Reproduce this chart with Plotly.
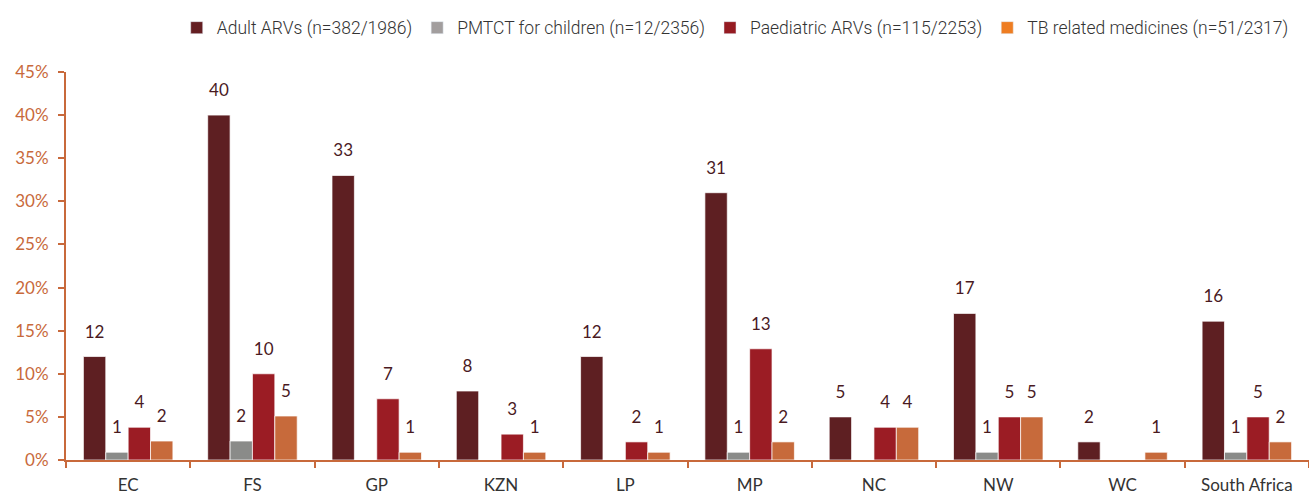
import plotly.graph_objects as go

categories = ["EC", "FS", "GP", "KZN", "LP", "MP", "NC", "NW", "WC", "South Africa"]

series_names = [
    "Adult ARVs (n=382/1986)",
    "PMTCT for children (n=12/2356)",
    "Paediatric ARVs (n=115/2253)",
    "TB related medicines (n=51/2317)",
]

adult_arvs = [12.0, 40.0, 33.0, 8.0, 12.0, 31.0, 5.0, 17.0, 2.1, 16.1]
pmtct_children = [0.9, 2.2, 0, 0, 0, 0.9, 0, 0.9, 0, 0.9]
paediatric_arvs = [3.8, 10.0, 7.1, 3.0, 2.1, 12.9, 3.8, 5.0, 0, 5.0]
tb_medicines = [2.2, 5.1, 0.9, 0.9, 0.9, 2.1, 3.8, 5.0, 0.9, 2.1]

adult_labels = ["12", "40", "33", "8", "12", "31", "5", "17", "2", "16"]
pmtct_labels = ["1", "2", "", "", "", "1", "", "1", "", "1"]
paed_labels = ["4", "10", "7", "3", "2", "13", "4", "5", "", "5"]
tb_labels = ["2", "5", "1", "1", "1", "2", "4", "5", "1", "2"]

bar_colors = ["#5E1F22", "#8A8B89", "#9B1C24", "#C76A3B"]
legend_colors = ["#641E22", "#A29E9E", "#951B22", "#EE7D22"]

values = [adult_arvs, pmtct_children, paediatric_arvs, tb_medicines]
labels = [adult_labels, pmtct_labels, paed_labels, tb_labels]

axis_color = "#C8693B"
label_color = "#4A1A1F"

fig = go.Figure()
for i, (name, vals, col) in enumerate(zip(series_names, values, bar_colors)):
    fig.add_trace(go.Bar(
        x=categories, y=vals, name=name, offsetgroup=str(i),
        marker=dict(color=col, line=dict(color="rgba(255,255,255,0.7)", width=1)),
        showlegend=False, hoverinfo="skip",
    ))

# value labels, aligned with the bar groups
for i, (vals, labs) in enumerate(zip(values, labels)):
    fig.add_trace(go.Scatter(
        x=categories, y=vals, text=labs, mode="markers+text",
        offsetgroup=str(i), textposition="top center", cliponaxis=False,
        marker=dict(size=22, opacity=0),
        textfont=dict(family="Lato", size=17, color=label_color),
        showlegend=False, hoverinfo="skip",
    ))

# legend entries
for i, (name, col) in enumerate(zip(series_names, legend_colors)):
    fig.add_trace(go.Bar(
        x=[None], y=[None], name=name, offsetgroup=str(i),
        marker=dict(color=col), showlegend=True,
    ))

fig.update_layout(
    width=1309, height=496,
    margin=dict(l=66, r=0, t=72, b=36),
    paper_bgcolor="white", plot_bgcolor="white",
    barmode="group", bargap=0.28, bargroupgap=0,
    scattermode="group", scattergap=0.28,
    font=dict(family="Lato", size=16, color="#333333"),
    legend=dict(
        orientation="h", xref="container", yref="container",
        x=0.135, y=0.944, xanchor="left", yanchor="middle",
        font=dict(family="Roboto", size=17.5, color="#333333", weight=300),
        itemwidth=30, tracegroupgap=0,
    ),
    xaxis=dict(
        showline=True, linecolor=axis_color, linewidth=2,
        ticks="outside", tickson="boundaries", ticklen=6, tickwidth=2, tickcolor=axis_color,
        tickfont=dict(family="Lato", size=17, color="#333333"),
        ticklabelstandoff=9,
        showgrid=False, zeroline=False,
    ),
    yaxis=dict(
        range=[0, 45], dtick=5, ticksuffix="%",
        showline=True, linecolor=axis_color, linewidth=2,
        ticks="outside", ticklen=6, tickwidth=2, tickcolor=axis_color,
        tickfont=dict(family="Lato", size=17, color=axis_color),
        ticklabelstandoff=6,
        showgrid=False, zeroline=False,
    ),
)

fig.write_html("out.html", config={"displayModeBar": False},
               post_script="document.body.style.margin='0';")
